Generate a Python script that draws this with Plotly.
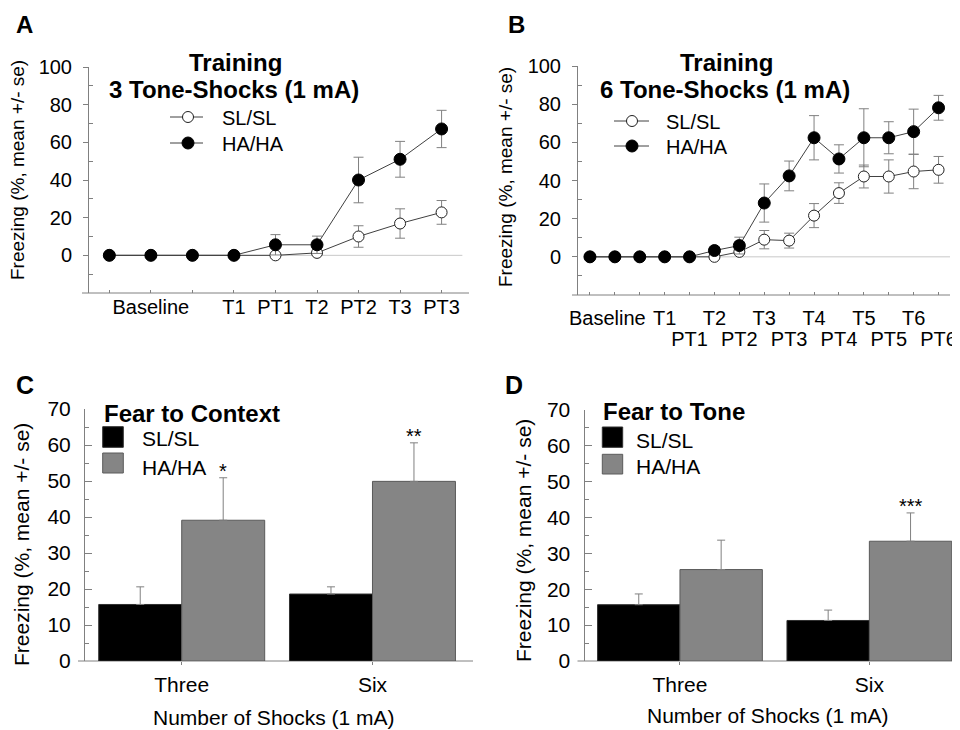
import plotly.graph_objects as go

W, H = 960, 730
OFF = 8  # the page places the figure 8px from the top-left corner
FONT = "Liberation Sans, Arial, sans-serif"
LINE = "#404040"
ERR = "#808080"
AXIS = "#808080"
ZERO = "#c8c8c8"
HA_BAR = "#858585"
HA_EDGE = "#5a5a5a"


def px(x):
    return (x - OFF) / W


def py(y):
    return 1 - (y - OFF) / H


# ---------------- data ----------------
series_names = ["SL/SL", "HA/HA"]

# Panel A: training, 3 tone-shocks
a_pos = [1, 2, 3, 4, 5, 6, 7, 8, 9]
a_ticktext = ["", "Baseline", "", "T1", "PT1", "T2", "PT2", "T3", "PT3"]
a_sl = [0, 0, 0, 0, 0, 1.3, 10.0, 16.9, 22.8]
a_sl_se = [0, 0, 0, 0, 0.5, 1.0, 5.7, 7.8, 6.3]
a_ha = [0, 0, 0, 0, 5.6, 5.6, 40.0, 51.0, 67.1]
a_ha_se = [0, 0, 0, 0, 5.4, 4.6, 12.1, 9.5, 9.9]

# Panel B: training, 6 tone-shocks
b_pos = [1, 2, 3, 4, 5, 6, 7, 8, 9, 10, 11, 12, 13, 14, 15]
b_row1_vals = [1.7, 4, 6, 8, 10, 12, 14]
b_row1_text = ["Baseline", "T1", "T2", "T3", "T4", "T5", "T6"]
b_row2_vals = [5, 7, 9, 11, 13, 15]
b_row2_text = ["PT1", "PT2", "PT3", "PT4", "PT5", "PT6"]
b_sl = [0, 0, 0, 0, 0, 0, 2.6, 9.0, 8.5, 21.6, 33.4, 42.1, 42.1, 44.7, 45.6]
b_sl_se = [0, 0, 0, 0, 0, 0.5, 1.0, 4.8, 3.9, 6.3, 5.4, 6.0, 8.7, 9.0, 7.0]
b_ha = [0, 0, 0, 0, 0, 3.3, 5.9, 28.2, 42.4, 62.4, 51.3, 62.4, 62.4, 65.6, 78.1]
b_ha_se = [0, 0, 0, 0, 0, 0, 4.4, 10.0, 7.8, 11.6, 7.4, 15.2, 8.4, 11.8, 6.5]

# Panels C/D: fear to context / tone
bar_cats = ["Three", "Six"]
c_sl = [15.7, 18.6]
c_sl_se = [4.9, 2.0]
c_ha = [39.1, 49.9]
c_ha_se = [11.8, 10.7]
c_sig = ["*", "**"]

d_sl = [15.7, 11.3]
d_sl_se = [3.0, 2.9]
d_ha = [25.5, 33.4]
d_ha_se = [8.2, 7.9]
d_sig = ["", "***"]

titles_top = ["Training", "3 Tone-Shocks (1 mA)", "6 Tone-Shocks (1 mA)"]
titles_bottom = ["Fear to Context", "Fear to Tone"]
y_title = "Freezing (%, mean +/- se)"
x_title_bars = "Number of Shocks (1 mA)"
panel_letters = ["A", "B", "C", "D"]

BARGAP = 0.13

# ---------------- figure ----------------
fig = go.Figure()


def line_pair(xs, sl, sl_se, ha, ha_se, xa, ya):
    fig.add_trace(go.Scatter(
        x=xs, y=sl, mode="lines+markers", name=series_names[0],
        xaxis=xa, yaxis=ya, showlegend=False,
        line=dict(color=LINE, width=1),
        marker=dict(symbol="circle", size=11, color="white",
                    line=dict(color="#202020", width=1)),
        error_y=dict(type="data", array=sl_se, color=ERR, thickness=1, width=5),
    ))
    fig.add_trace(go.Scatter(
        x=xs, y=ha, mode="lines+markers", name=series_names[1],
        xaxis=xa, yaxis=ya, showlegend=False,
        line=dict(color=LINE, width=1),
        marker=dict(symbol="circle", size=12, color="black",
                    line=dict(color="black", width=1)),
        error_y=dict(type="data", array=ha_se, color=ERR, thickness=1, width=5),
    ))


line_pair(a_pos, a_sl, a_sl_se, a_ha, a_ha_se, "x", "y")
line_pair(b_pos, b_sl, b_sl_se, b_ha, b_ha_se, "x2", "y2")

# invisible carriers for the label-only overlay axes of panel B
for xa in ["x5", "x6"]:
    fig.add_trace(go.Scatter(x=b_pos, y=b_ha, xaxis=xa, yaxis="y2", mode="markers",
                             marker=dict(opacity=0), hoverinfo="skip", showlegend=False))


def bar_pair(sl, sl_se, ha, ha_se, xa, ya):
    fig.add_trace(go.Bar(
        x=bar_cats, y=sl, name=series_names[0], xaxis=xa, yaxis=ya, showlegend=False,
        marker=dict(color="black", line=dict(color="#303030", width=1)),
        error_y=dict(type="data", array=sl_se, arrayminus=[0] * len(sl), symmetric=False,
                     color=ERR, thickness=1, width=4),
    ))
    fig.add_trace(go.Bar(
        x=bar_cats, y=ha, name=series_names[1], xaxis=xa, yaxis=ya, showlegend=False,
        marker=dict(color=HA_BAR, line=dict(color=HA_EDGE, width=1)),
        error_y=dict(type="data", array=ha_se, arrayminus=[0] * len(ha), symmetric=False,
                     color=ERR, thickness=1, width=4),
    ))


bar_pair(c_sl, c_sl_se, c_ha, c_ha_se, "x3", "y3")
bar_pair(d_sl, d_sl_se, d_ha, d_ha_se, "x4", "y4")

# ---------------- axes ----------------
tick_ab = dict(family=FONT, size=20, color="black")
tick_cd = dict(family=FONT, size=21, color="black")

common = dict(showgrid=False, zeroline=False, tickcolor=AXIS, tickwidth=1, automargin=False)

fig.update_layout(
    width=W, height=H,
    margin=dict(l=0, r=0, t=0, b=0, pad=0, autoexpand=False),
    paper_bgcolor="white", plot_bgcolor="white",
    barmode="group", bargap=BARGAP, bargroupgap=0,
    font=dict(family=FONT, color="black"),
    showlegend=False,
    xaxis=dict(domain=[px(89), px(469)], anchor="y", range=[0.51, 9.66],
               tickmode="array", tickvals=a_pos, ticktext=a_ticktext, tickangle=0,
               ticks="inside", ticklen=3, showline=False, tickfont=tick_ab,
               ticklabelstandoff=0, **common),
    yaxis=dict(domain=[py(293), py(67)], anchor="x", range=[-20, 100],
               tickmode="array", tickvals=[0, 20, 40, 60, 80, 100],
               ticks="outside", ticklen=5, showline=True, linecolor=AXIS, linewidth=1,
               minor=dict(tickmode="array", tickvals=[-10, 10, 30, 50, 70, 90],
                          ticks="inside", ticklen=4, tickcolor=AXIS),
               tickfont=tick_ab, ticklabelstandoff=7, **common),
    xaxis2=dict(domain=[px(578), px(950)], anchor="y2", range=[0.52, 15.46],
                tickmode="array", tickvals=b_pos, showticklabels=False,
                ticks="inside", ticklen=3, showline=False, **common),
    xaxis5=dict(overlaying="x2", anchor="y2", range=[0.52, 15.46], side="bottom",
                tickmode="array", tickvals=b_row1_vals, ticktext=b_row1_text, tickangle=0,
                ticks="", showline=False, tickfont=tick_ab, ticklabelstandoff=9,
                showgrid=False, zeroline=False, automargin=False),
    xaxis6=dict(overlaying="x2", anchor="y2", range=[0.52, 15.46], side="bottom",
                tickmode="array", tickvals=b_row2_vals, ticktext=b_row2_text, tickangle=0,
                ticks="", showline=False, tickfont=tick_ab, ticklabelstandoff=30,
                showgrid=False, zeroline=False, automargin=False),
    yaxis2=dict(domain=[py(295), py(66)], anchor="x2", range=[-20, 100],
                tickmode="array", tickvals=[0, 20, 40, 60, 80, 100],
                ticks="outside", ticklen=5, showline=True, linecolor=AXIS, linewidth=1,
                minor=dict(tickmode="array", tickvals=[-10, 10, 30, 50, 70, 90],
                           ticks="inside", ticklen=4, tickcolor=AXIS),
                tickfont=tick_ab, ticklabelstandoff=7, **common),
    xaxis3=dict(domain=[px(85), px(473)], anchor="y3", range=[-0.507, 1.527],
                type="category", ticks="outside", ticklen=3, showline=False,
                tickfont=tick_cd, ticklabelstandoff=2, tickangle=0, **common),
    yaxis3=dict(domain=[py(661), py(409)], anchor="x3", range=[0, 70],
                tickmode="array", tickvals=[0, 10, 20, 30, 40, 50, 60, 70],
                ticks="inside", ticklen=7, showline=True, linecolor=AXIS, linewidth=1,
                minor=dict(tickmode="array", tickvals=[5, 15, 25, 35, 45, 55, 65],
                           ticks="inside", ticklen=4, tickcolor=AXIS),
                tickfont=tick_cd, ticklabelstandoff=9, **common),
    xaxis4=dict(domain=[px(584.5), px(958)], anchor="y4", range=[-0.504, 1.468],
                type="category", ticks="outside", ticklen=3, showline=False,
                tickfont=tick_cd, ticklabelstandoff=2, tickangle=0, **common),
    yaxis4=dict(domain=[py(661), py(410)], anchor="x4", range=[0, 70],
                tickmode="array", tickvals=[0, 10, 20, 30, 40, 50, 60, 70],
                ticks="inside", ticklen=7, showline=True, linecolor=AXIS, linewidth=1,
                minor=dict(tickmode="array", tickvals=[5, 15, 25, 35, 45, 55, 65],
                           ticks="inside", ticklen=4, tickcolor=AXIS),
                tickfont=tick_cd, ticklabelstandoff=9, **common),
)

shapes = []
# x-axis lines (slightly overhanging the y axis on the left, as in the original)
for xa, ya, over_px, width_px in [("x", "y", 7, 380), ("x2", "y2", 6, 372),
                                  ("x3", "y3", 7, 388), ("x4", "y4", 7, 373.5)]:
    shapes.append(dict(type="line", xref=f"{xa} domain", yref=f"{ya} domain",
                       x0=-over_px / width_px, x1=1, y0=0, y1=0,
                       line=dict(color=AXIS, width=1), layer="below"))
# zero reference lines in the training panels
shapes.append(dict(type="line", xref="x", yref="y", x0=a_pos[0], x1=a_pos[-1] + 0.5,
                   y0=0, y1=0, line=dict(color=ZERO, width=1), layer="below"))
shapes.append(dict(type="line", xref="x2", yref="y2", x0=b_pos[0], x1=15.46,
                   y0=0, y1=0, line=dict(color=ZERO, width=1), layer="below"))

annotations = []


def text(x, y, s, size, bold=False, xanchor="center", angle=0):
    annotations.append(dict(
        x=px(x), y=py(y), xref="paper", yref="paper", showarrow=False,
        text=f"<b>{s}</b>" if bold else s, xanchor=xanchor, yanchor="middle",
        textangle=angle, font=dict(family=FONT, size=size, color="black"),
    ))


# panel letters (top row kept just inside the page edge)
text(24.5, 25, panel_letters[0], 24, bold=True)
text(517, 25, panel_letters[1], 24, bold=True)
text(25, 385.5, panel_letters[2], 25, bold=True)
text(514, 385.5, panel_letters[3], 25, bold=True)

# titles
text(235, 63, titles_top[0], 24, bold=True)
text(234, 89, titles_top[1], 24, bold=True)
text(726, 63, titles_top[0], 24, bold=True)
text(725, 90, titles_top[2], 24, bold=True)
text(102, 413, titles_bottom[0], 24, bold=True, xanchor="left")
text(601, 412, titles_bottom[1], 24, bold=True, xanchor="left")

# axis titles
text(18, 170, y_title, 19, angle=-90)
text(505, 177, y_title, 19, angle=-90)
text(21, 545, y_title, 21, angle=-90)
text(523, 541, y_title, 21, angle=-90)
text(274, 717, x_title_bars, 21)
text(768, 715, x_title_bars, 21)

# legends for the line panels
for (x0, x1, xm, xt, ys) in [(170, 203, 188, 220, (118, 144)),
                             (614, 649, 632, 664, (122, 147))]:
    for i, yy in enumerate(ys):
        shapes.append(dict(type="line", xref="paper", yref="paper",
                           x0=px(x0), x1=px(x1), y0=py(yy - 1), y1=py(yy - 1),
                           line=dict(color=LINE, width=1)))
        r = 5.5 if i == 0 else 6
        shapes.append(dict(type="circle", xref="paper", yref="paper",
                           xsizemode="pixel", ysizemode="pixel",
                           xanchor=px(xm), yanchor=py(yy - 1),
                           x0=-r, x1=r, y0=-r, y1=r,
                           fillcolor="white" if i == 0 else "black",
                           line=dict(color="#202020" if i == 0 else "black", width=1)))
        text(xt, yy, series_names[i], 20, xanchor="left")

# legends for the bar panels
for (sx0, sx1, xt, boxes, tys) in [(102.7, 123.3, 140, ((426.7, 447.3), (453, 473)), (438, 467)),
                                   (602.3, 622.7, 634, ((427, 447.3), (454.3, 474)), (440, 466.7))]:
    for i, (yb0, yb1) in enumerate(boxes):
        shapes.append(dict(type="rect", xref="paper", yref="paper",
                           x0=px(sx0), x1=px(sx1), y0=py(yb1), y1=py(yb0),
                           fillcolor="black" if i == 0 else HA_BAR,
                           line=dict(color="#303030" if i == 0 else HA_EDGE, width=1)))
        text(xt, tys[i], series_names[i], 21, xanchor="left")

# significance stars above the HA/HA error bars
ha_offset = (1 - BARGAP) / 4
for xa, ya, ha, se, sig in [("x3", "y3", c_ha, c_ha_se, c_sig), ("x4", "y4", d_ha, d_ha_se, d_sig)]:
    for i, s in enumerate(sig):
        if s:
            annotations.append(dict(
                x=i + ha_offset, y=ha[i] + se[i], xref=xa, yref=ya, showarrow=False,
                text=s, xanchor="center", yanchor="bottom", yshift=-6,
                font=dict(family=FONT, size=20, color="black"),
            ))

fig.update_layout(shapes=shapes, annotations=annotations)
fig.write_html("out.html")
